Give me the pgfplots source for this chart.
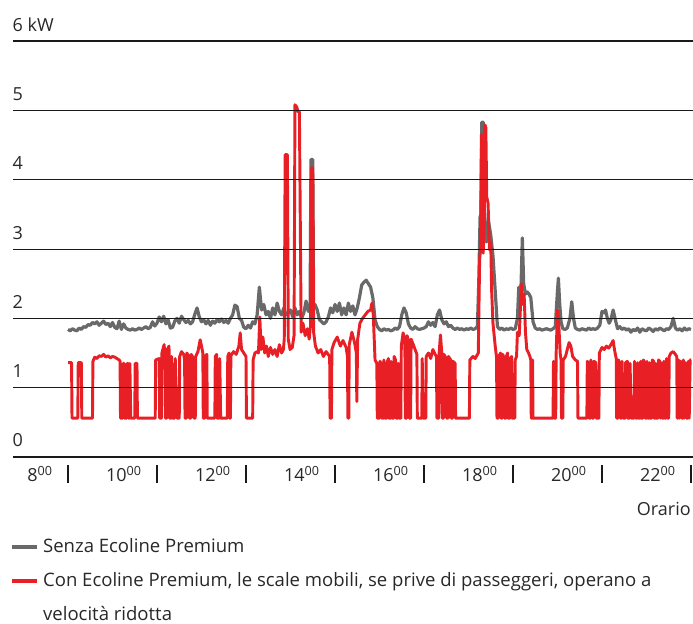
\documentclass[border=0pt]{standalone}
\usepackage{pgfplots}
\usepackage{pgfplotstable}
\pgfplotsset{compat=1.18}
\usepackage{fontspec}
\setmainfont{Open Sans}
\definecolor{cgray}{RGB}{105,105,105}
\definecolor{cred}{RGB}{232,32,38}
\definecolor{ctext}{RGB}{40,40,40}

\pgfplotstableread{
x y
8.00 1.84
8.05 1.82
8.10 1.85
8.15 1.83
8.20 1.82
8.25 1.86
8.30 1.84
8.35 1.88
8.40 1.87
8.45 1.91
8.50 1.90
8.55 1.94
8.60 1.92
8.65 1.95
8.70 1.90
8.75 1.93
8.80 1.96
8.85 1.91
8.90 1.93
8.95 1.88
9.00 1.94
9.05 1.87
9.10 1.85
9.15 1.96
9.20 1.84
9.25 1.92
9.30 1.86
9.35 1.84
9.40 1.83
9.45 1.85
9.50 1.83
9.55 1.84
9.60 1.86
9.65 1.84
9.70 1.86
9.75 1.88
9.80 1.85
9.85 1.87
9.90 1.95
9.95 1.89
10.00 1.93
10.05 2.02
10.10 1.95
10.15 2.03
10.20 1.92
10.25 1.98
10.30 1.86
10.35 1.87
10.40 1.96
10.45 2.00
10.50 1.93
10.55 2.03
10.60 1.98
10.65 1.94
10.70 1.97
10.75 1.92
10.80 1.95
10.85 2.06
10.90 2.15
10.95 2.02
11.00 1.95
11.05 1.98
11.10 1.92
11.15 1.97
11.20 1.90
11.25 1.96
11.30 1.93
11.35 1.98
11.40 1.95
11.45 1.99
11.50 1.94
11.55 1.97
11.60 1.93
11.65 2.00
11.70 2.05
11.75 2.19
11.80 2.17
11.85 2.00
11.90 1.97
11.95 1.87
12.00 1.85
12.05 1.90
12.10 1.86
12.15 1.95
12.20 1.92
12.25 2.05
12.30 2.45
12.35 2.12
12.40 2.20
12.45 2.05
12.50 2.10
12.55 2.00
12.60 2.15
12.65 2.05
12.70 2.22
12.75 2.10
12.80 2.05
12.85 2.15
12.90 2.05
12.95 2.08
13.00 2.12
13.05 2.02
13.10 2.15
13.15 2.05
13.20 2.10
13.25 2.00
13.30 2.08
13.35 2.25
13.40 2.10
13.44 2.15
13.46 4.29
13.50 4.29
13.52 2.15
13.55 2.20
13.60 2.12
13.65 1.98
13.70 1.95
13.75 1.92
13.80 1.95
13.85 2.02
13.90 2.15
13.95 2.08
14.00 2.20
14.05 2.10
14.10 2.22
14.15 2.05
14.20 2.15
14.25 2.05
14.30 2.22
14.35 2.10
14.40 2.18
14.45 2.05
14.50 2.15
14.55 2.30
14.60 2.48
14.65 2.52
14.70 2.55
14.75 2.50
14.80 2.45
14.85 2.30
14.90 1.98
14.95 1.88
15.00 1.84
15.05 1.82
15.10 1.85
15.15 1.83
15.20 1.84
15.25 1.82
15.30 1.83
15.35 1.86
15.40 1.84
15.45 1.88
15.50 2.05
15.55 2.15
15.60 2.08
15.65 1.92
15.70 1.86
15.75 1.84
15.80 1.88
15.85 1.85
15.90 1.84
16.00 1.86
16.05 1.88
16.10 1.95
16.15 1.90
16.20 1.94
16.25 1.88
16.30 2.05
16.35 2.12
16.40 1.98
16.45 1.92
16.50 1.95
16.55 1.88
16.60 1.90
16.65 1.86
16.70 1.84
16.75 1.86
16.80 1.84
16.85 1.85
16.90 1.83
16.95 1.85
17.00 1.84
17.05 1.86
17.10 1.84
17.15 1.85
17.20 1.88
17.23 2.50
17.26 3.46
17.28 3.50
17.30 4.83
17.33 4.83
17.35 3.66
17.40 3.10
17.45 3.40
17.50 3.20
17.55 2.90
17.60 2.40
17.65 1.88
17.70 1.84
17.75 1.86
17.80 1.83
17.85 1.85
17.90 1.84
17.95 1.86
18.00 1.84
18.05 1.85
18.10 2.00
18.13 2.45
18.18 2.45
18.21 3.16
18.24 2.50
18.28 2.35
18.32 2.38
18.36 2.35
18.40 2.30
18.45 1.95
18.50 1.86
18.55 1.84
18.60 1.85
18.65 1.83
18.70 1.84
18.75 1.85
18.80 1.84
18.85 1.83
18.90 1.85
18.95 1.88
19.00 2.40
19.02 2.58
19.05 2.20
19.08 1.95
19.12 1.85
19.17 1.84
19.22 1.86
19.28 2.00
19.32 2.24
19.36 2.00
19.40 1.86
19.45 1.84
19.50 1.83
19.55 1.85
19.60 1.84
19.65 1.83
19.70 1.86
19.75 1.84
19.80 1.85
19.85 1.84
19.90 1.86
19.95 1.90
20.00 2.10
20.05 2.08
20.08 2.12
20.12 2.00
20.16 1.93
20.20 1.98
20.25 2.12
20.30 1.98
20.35 1.85
20.40 1.88
20.45 1.84
20.50 1.86
20.55 1.83
20.60 1.85
20.65 1.80
20.70 1.84
20.75 1.82
20.80 1.86
20.85 1.80
20.90 1.85
20.95 1.83
21.00 1.82
21.05 1.86
21.10 1.84
21.15 1.81
21.20 1.85
21.25 1.83
21.30 1.86
21.35 1.84
21.40 1.82
21.45 1.85
21.50 1.84
21.55 1.88
21.60 2.00
21.65 1.86
21.70 1.83
21.75 1.85
21.80 1.82
21.85 1.86
21.90 1.83
21.95 1.85
22.00 1.84
}\graydata

\pgfplotstableread{
x y
8.00 1.36
8.08 1.36
8.09 0.56
8.22 0.56
8.23 1.36
8.30 1.36
8.31 0.56
8.55 0.56
8.56 1.38
8.60 1.44
8.65 1.42
8.70 1.46
8.75 1.45
8.80 1.48
8.85 1.44
8.90 1.46
8.95 1.43
9.00 1.45
9.05 1.44
9.10 1.42
9.15 1.40
9.17 1.38
9.18 0.56
9.23 0.56
9.24 1.35
9.26 1.35
9.27 0.56
9.32 0.56
9.33 1.35
9.35 1.35
9.36 0.56
9.38 0.56
9.39 1.35
9.41 0.56
9.50 0.56
9.51 1.35
9.55 1.35
9.56 0.56
9.96 0.56
9.97 1.40
10.05 1.42
10.06 0.56
10.10 0.56
10.11 1.50
10.16 1.62
10.18 1.45
10.19 0.56
10.22 0.56
10.23 1.55
10.27 1.60
10.28 0.56
10.32 0.56
10.33 1.45
10.35 0.56
10.40 0.56
10.41 1.42
10.45 0.56
10.50 0.56
10.51 1.45
10.55 1.52
10.60 1.48
10.62 1.40
10.63 0.56
10.66 0.56
10.67 1.50
10.72 1.45
10.73 0.56
10.76 0.56
10.77 1.48
10.82 1.42
10.83 0.56
10.86 0.56
10.87 1.45
10.92 1.52
10.97 1.69
11.00 1.60
11.03 1.50
11.04 0.56
11.07 0.56
11.08 1.45
11.12 1.48
11.13 0.56
11.30 0.56
11.31 1.45
11.34 1.48
11.35 0.56
11.40 0.56
11.41 1.42
11.43 0.56
11.58 0.56
11.59 1.45
11.62 1.50
11.63 0.56
11.65 0.56
11.66 1.46
11.72 1.52
11.78 1.48
11.84 1.60
11.87 1.79
11.90 1.55
11.95 1.50
12.00 1.45
12.01 0.56
12.15 0.56
12.16 1.40
12.20 1.50
12.25 1.52
12.28 1.50
12.31 2.02
12.34 1.55
12.38 1.73
12.42 1.50
12.46 1.60
12.50 1.45
12.55 1.58
12.60 1.48
12.65 1.55
12.70 1.45
12.75 1.62
12.80 1.50
12.84 1.55
12.86 1.70
12.88 4.36
12.93 4.36
12.95 1.70
12.99 1.55
13.04 1.58
13.08 1.75
13.10 5.08
13.14 5.05
13.17 4.98
13.20 4.98
13.24 1.80
13.28 1.93
13.33 1.75
13.38 1.85
13.42 1.70
13.45 1.90
13.47 4.17
13.50 4.17
13.52 1.80
13.56 1.60
13.62 1.50
13.68 1.55
13.74 1.45
13.80 1.52
13.88 1.45
13.89 0.56
13.92 0.56
13.93 1.55
13.98 1.65
14.05 1.73
14.12 1.60
14.18 1.68
14.25 1.58
14.28 1.45
14.29 0.56
14.31 0.56
14.32 1.62
14.38 1.80
14.44 1.65
14.48 1.50
14.49 0.80
14.51 1.70
14.56 1.93
14.62 2.00
14.68 2.05
14.74 2.10
14.80 2.12
14.83 2.22
14.86 2.05
14.90 1.40
14.94 1.35
14.95 0.56
15.00 0.56
15.01 1.38
15.04 1.35
15.05 0.56
15.09 0.56
15.10 1.40
15.12 0.56
15.16 0.56
15.17 1.36
15.20 1.42
15.21 0.56
15.25 0.56
15.26 1.38
15.28 0.56
15.32 0.56
15.33 1.45
15.36 1.40
15.37 0.56
15.41 0.56
15.42 1.35
15.44 0.56
15.48 0.56
15.49 1.60
15.53 1.79
15.57 1.70
15.58 0.56
15.61 0.56
15.62 1.75
15.66 1.65
15.67 0.56
15.70 0.56
15.71 1.70
15.76 1.62
15.80 1.55
15.84 1.48
15.85 0.56
15.95 0.56
15.96 1.42
15.98 0.56
16.04 0.56
16.05 1.45
16.10 1.50
16.15 1.42
16.20 1.55
16.25 1.48
16.28 1.45
16.29 0.56
16.33 0.56
16.34 1.50
16.37 1.76
16.40 1.50
16.41 0.56
16.44 0.56
16.45 1.48
16.50 1.42
16.51 0.56
16.54 0.56
16.55 1.45
16.60 1.40
16.61 0.56
16.64 0.56
16.65 1.38
16.70 1.35
16.71 0.56
17.02 0.56
17.03 1.40
17.10 1.45
17.15 1.42
17.22 1.50
17.25 2.84
17.27 3.00
17.29 4.65
17.31 4.04
17.33 2.94
17.35 3.30
17.37 4.79
17.39 4.75
17.41 3.75
17.44 3.66
17.47 2.99
17.50 3.10
17.52 2.40
17.55 1.93
17.60 1.60
17.63 1.44
17.64 0.56
17.67 0.56
17.68 1.45
17.72 1.50
17.73 0.56
17.76 0.56
17.77 1.48
17.80 1.42
17.81 0.56
17.84 0.56
17.85 1.45
17.88 1.50
17.89 0.56
17.93 0.56
17.94 1.42
17.97 1.45
17.98 0.56
18.04 0.56
18.05 1.40
18.08 1.45
18.10 1.80
18.14 1.75
18.19 2.50
18.22 2.20
18.25 2.35
18.28 1.80
18.31 1.55
18.35 1.50
18.38 1.45
18.40 1.40
18.41 0.56
18.43 0.56
18.44 1.40
18.45 0.56
18.90 0.56
18.91 1.38
18.93 0.56
18.96 0.56
18.97 1.50
19.00 2.12
19.03 1.90
19.06 1.50
19.08 1.40
19.09 0.56
19.12 0.56
19.13 1.40
19.18 1.45
19.22 1.55
19.26 1.65
19.30 1.60
19.34 1.45
19.40 1.40
19.45 1.38
19.46 0.56
19.66 0.56
19.67 1.38
19.70 1.35
19.71 0.56
19.74 0.56
19.75 1.40
19.78 0.56
19.81 0.56
19.82 1.38
19.86 1.36
19.87 0.56
19.93 0.56
19.94 1.50
20.00 1.58
20.05 1.55
20.10 1.60
20.15 1.57
20.20 1.62
20.25 1.68
20.28 1.55
20.32 1.42
20.33 0.56
20.36 0.56
20.37 1.40
20.40 1.35
20.41 0.56
20.44 0.56
20.45 1.38
20.48 0.56
20.52 0.56
20.53 1.36
20.57 1.38
20.58 0.56
20.62 0.56
20.63 1.35
20.66 0.56
20.72 0.56
20.73 1.38
20.76 0.56
20.79 0.56
20.80 1.36
20.82 0.56
20.86 0.56
20.87 1.38
20.88 0.56
20.92 0.56
20.93 1.40
20.96 1.36
20.97 0.56
21.00 0.56
21.01 1.38
21.03 0.56
21.06 0.56
21.07 1.36
21.08 0.56
21.12 0.56
21.13 1.40
21.16 1.38
21.17 0.56
21.20 0.56
21.21 1.35
21.22 0.56
21.26 0.56
21.27 1.40
21.30 1.38
21.31 0.56
21.33 1.36
21.35 0.56
21.38 0.56
21.39 1.38
21.41 0.56
21.44 0.56
21.45 1.42
21.48 0.56
21.50 0.56
21.51 1.45
21.55 1.50
21.60 1.52
21.65 1.48
21.68 1.45
21.69 0.56
21.71 0.56
21.72 1.40
21.74 0.56
21.77 1.38
21.79 0.56
21.82 0.56
21.83 1.40
21.85 0.56
21.88 1.36
21.90 0.56
21.93 0.56
21.94 1.38
21.96 0.56
21.98 1.40
22.00 1.40
}\reddata

\begin{document}
\begin{tikzpicture}
\useasboundingbox (-9.75pt,-125.25pt) rectangle (510pt,342.75pt);
\begin{axis}[
  at={(0pt,0pt)}, anchor=south west,
  scale only axis,
  width=510pt, height=312pt,
  xmin=6.764, xmax=22.045,
  ymin=0, ymax=6,
  clip=false,
  axis on top,
  font=\fontsize{13.5}{16}\selectfont\color{ctext},
  /pgf/number format/assume math mode=true,
  axis x line*=bottom,
  axis y line*=left,
  y axis line style={draw=none},
  x axis line style={-, line width=1.6pt, color=black!90},
  major tick length=0pt,
  ytick={0,1,2,3,4,5},
  yticklabels={0,1,2,3,4,5},
  extra y ticks={6},
  extra y tick labels={6 kW},
  extra y tick style={grid style={line width=1.6pt, color=black!90}},
  ymajorgrids=true,
  grid style={line width=0.75pt, color=black!90},
  yticklabel style={anchor=base west, inner sep=0pt, xshift=-0.5pt, yshift=7.5pt},
  xtick={8,10,12,14,16,18,20,22},
  xticklabels={8\textsuperscript{00},10\textsuperscript{00},12\textsuperscript{00},14\textsuperscript{00},16\textsuperscript{00},18\textsuperscript{00},20\textsuperscript{00},22\textsuperscript{00}},
  xticklabel style={anchor=base east, inner sep=0pt, xshift=-11.25pt, yshift=-18.75pt},
  legend style={at={(axis description cs:-0.0045,-0.195)}, anchor=north west, draw=none, fill=none,
     inner sep=0pt, row sep=13.5pt, font=\fontsize{13.9}{16}\selectfont\color{ctext},
     nodes={inner sep=0pt, anchor=base west}},
  legend cell align=left,
  legend image code/.code={\draw[#1, line width=3pt] (0pt,4pt) -- (18.75pt,4pt); \path (22pt,4pt);},
]
\addplot[color=cgray, line width=2.4pt, line join=round] table[x=x,y=y] {\graydata};
\addlegendentry{Senza Ecoline Premium}
\addplot[color=cred, line width=2.2pt, line join=round] table[x=x,y=y] {\reddata};
\addlegendentry{Con Ecoline Premium, le scale mobili, se prive di passeggeri, operano a}
\addlegendimage{empty legend}
\addlegendentry{velocità ridotta}
\pgfplotsinvokeforeach{8,10,12,14,16,18,20,22}{
  \draw[line width=1.1pt, color=black!90] (axis cs:#1,-0.115) -- (axis cs:#1,-0.375);
}
\node[anchor=base east, inner sep=0pt] at (axis cs:22.0,-0.85) {Orario};
\end{axis}
\end{tikzpicture}
\end{document}
